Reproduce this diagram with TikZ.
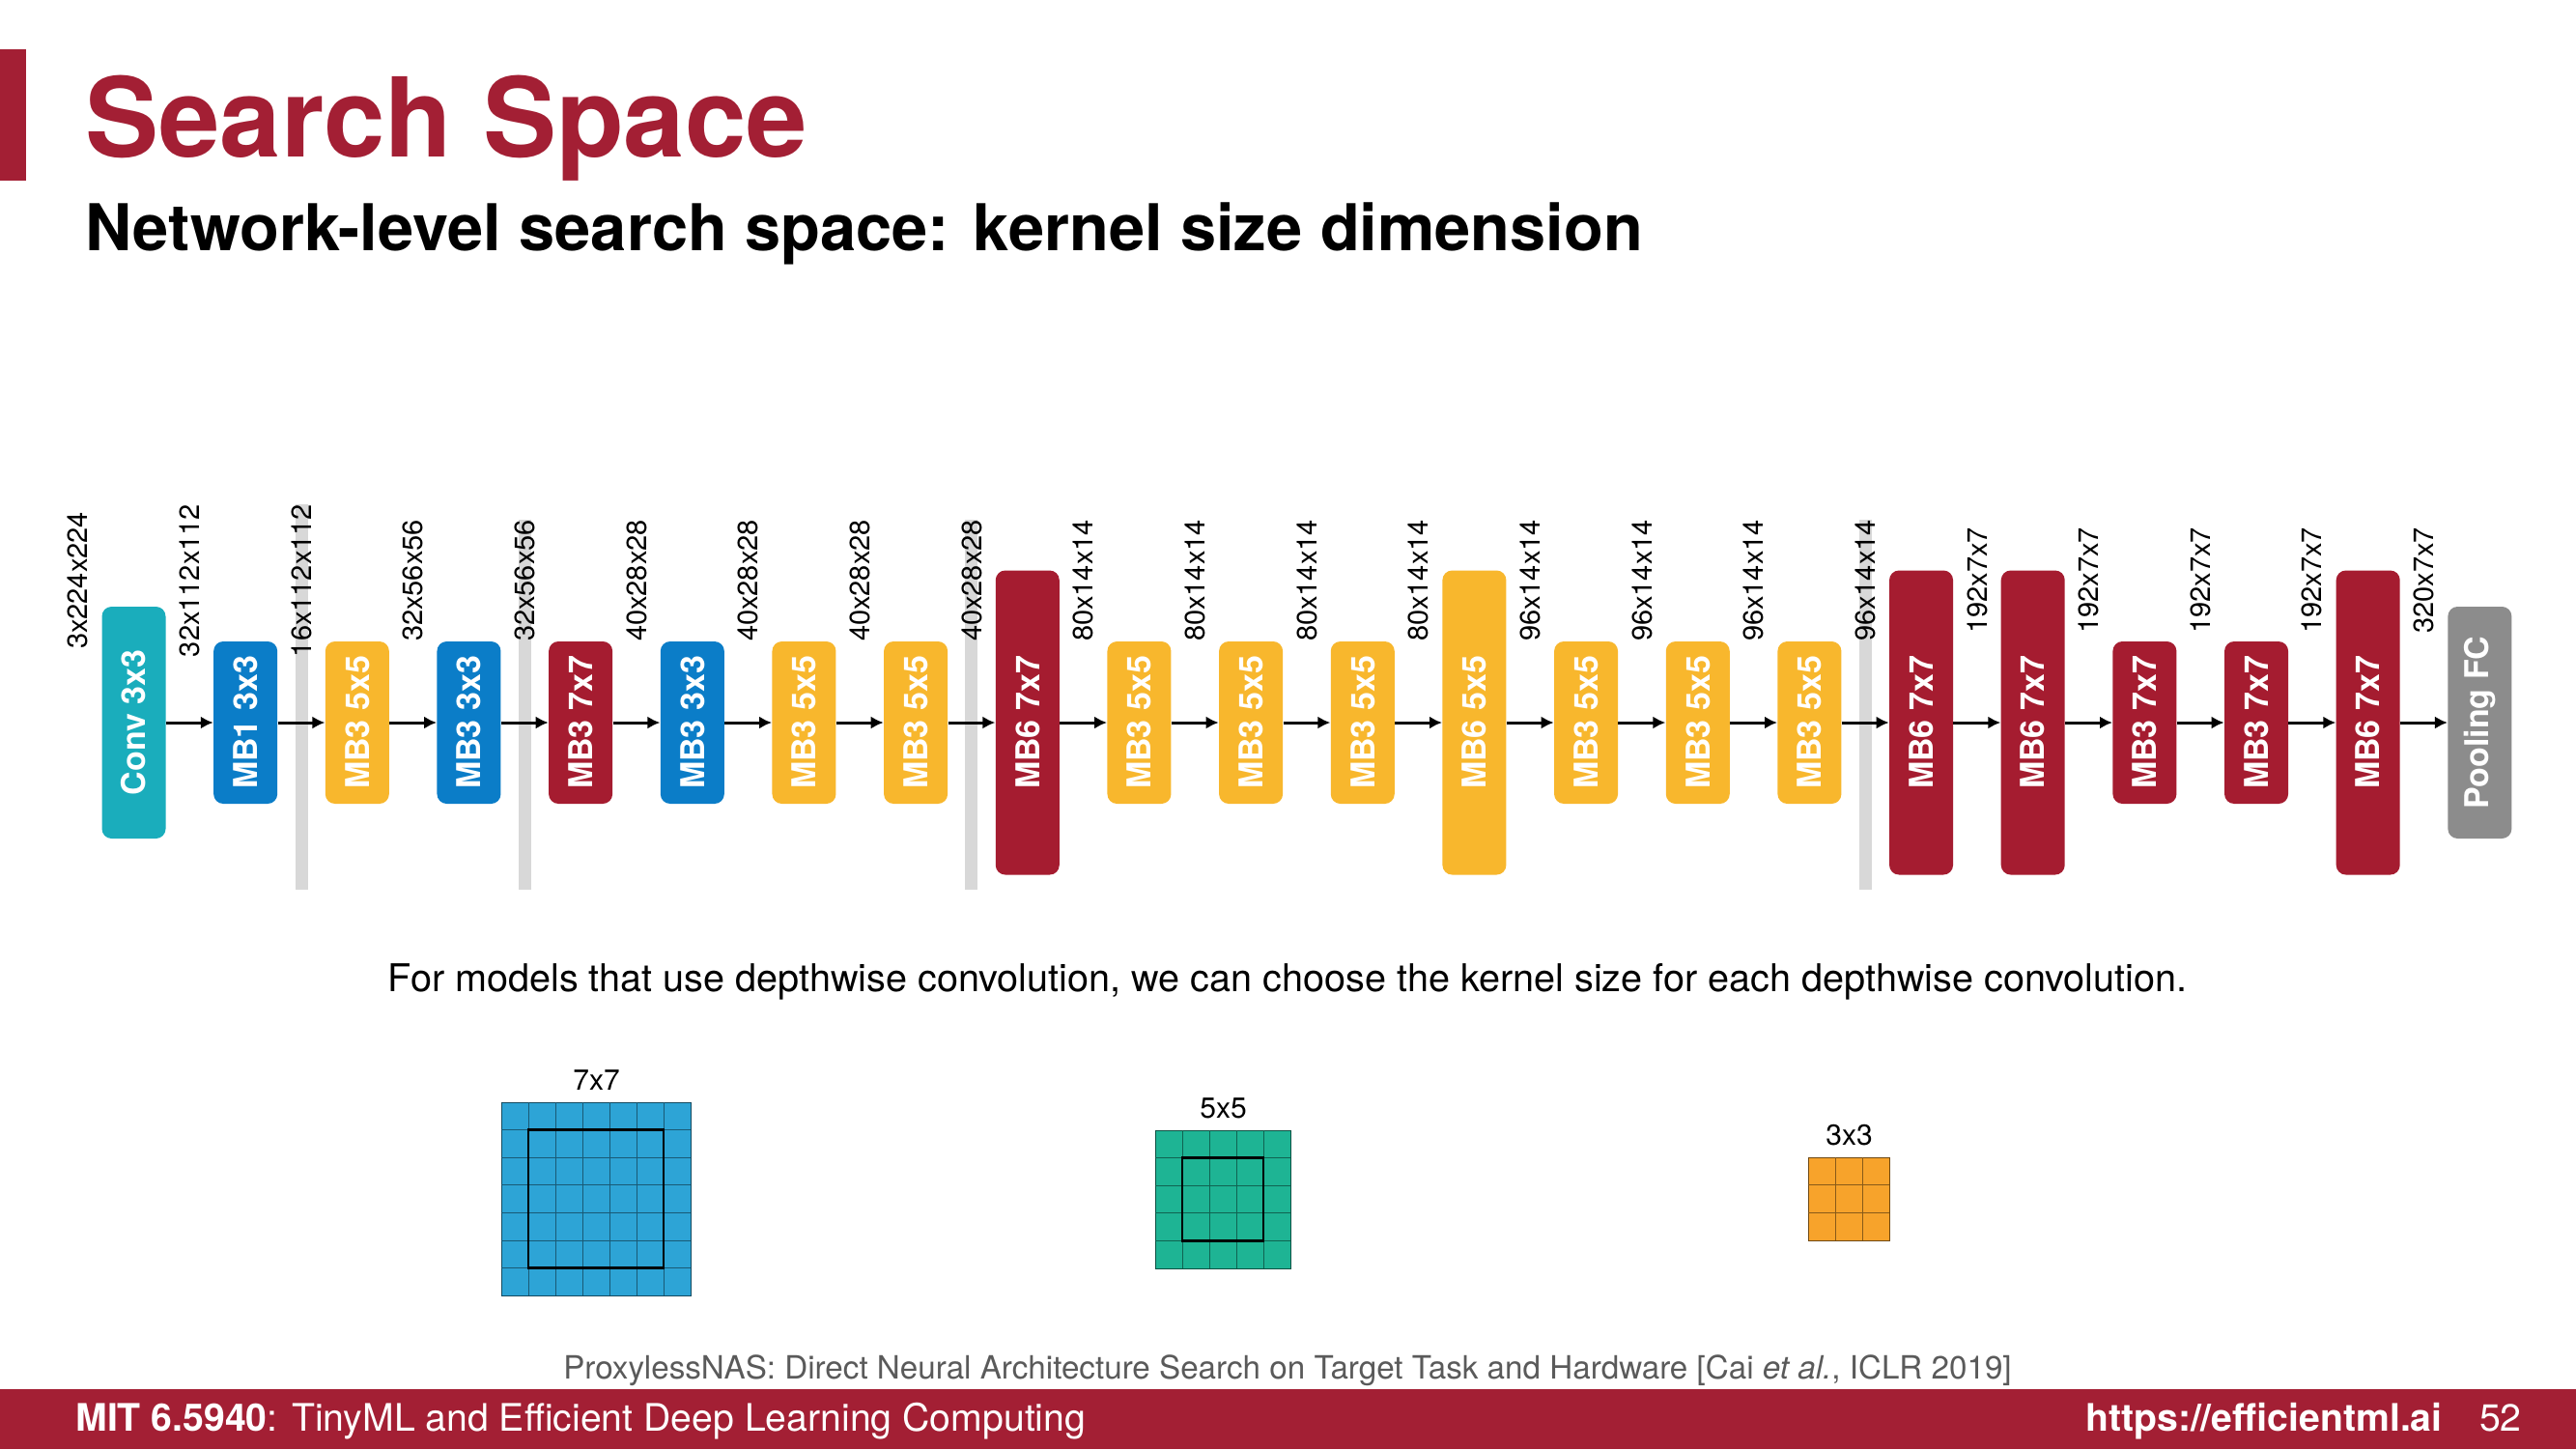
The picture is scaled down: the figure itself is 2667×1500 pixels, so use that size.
\documentclass[tikz,border=0pt]{standalone}
\usepackage{fontspec}
\setmainfont{TeX Gyre Heros}
\usetikzlibrary{arrows.meta,positioning,backgrounds}

\definecolor{mitred}{RGB}{163,31,52}
\definecolor{convteal}{RGB}{26,173,188}
\definecolor{mbblue}{RGB}{11,125,200}
\definecolor{mbyellow}{RGB}{248,183,45}
\definecolor{mbred}{RGB}{165,28,48}
\definecolor{poolgrey}{RGB}{140,140,140}
\definecolor{bargrey}{RGB}{216,216,216}
\definecolor{kblue}{RGB}{45,164,214}
\definecolor{kgreen}{RGB}{30,180,148}
\definecolor{korange}{RGB}{247,163,43}
\definecolor{citegrey}{RGB}{90,90,90}

\newcommand{\pxfont}[1]{\fontsize{#1}{#1}\selectfont}

\begin{document}
\begin{tikzpicture}[x=0.5pt, y=-0.5pt,
    blk/.style={rotate=90, rounded corners=5pt, minimum height=33pt, inner sep=0pt, text=white, font=\bfseries\pxfont{17}},
    bshort/.style={minimum width=84pt},
    bmid/.style={minimum width=120pt},
    btall/.style={minimum width=157.5pt},
    dim/.style={rotate=90, inner sep=0pt, font=\pxfont{14.5}},
    arr/.style={-{Latex[length=6.5pt,width=6.5pt]}, line width=1.5pt},
    bar/.style={draw=bargrey, line width=6.5pt},
    kgrid/.style={line width=0.6pt, inner sep=0pt, anchor=north west},
    klbl/.style={font=\pxfont{15}, inner sep=0pt}
]
\useasboundingbox (0,0) rectangle (2667,1500);

% heading
\fill[mitred] (0,51) rectangle (27,187);
\node[anchor=base west, inner sep=0pt, text=mitred, font=\bfseries\pxfont{57}] (title) at (88,162) {Search Space};
\node[anchor=base west, inner sep=0pt, font=\bfseries\pxfont{33.4}] (subtitle) at (88,259) {Network-level search space: kernel size dimension};

% network blocks and tensor shapes
\coordinate (barend) at (0,921);
\foreach \i/\txt/\col/\sz/\dims in {
    0/Conv 3x3/convteal/bmid/3x224x224,
    1/MB1 3x3/mbblue/bshort/32x112x112,
    2/MB3 5x5/mbyellow/bshort/16x112x112,
    3/MB3 3x3/mbblue/bshort/32x56x56,
    4/MB3 7x7/mbred/bshort/32x56x56,
    5/MB3 3x3/mbblue/bshort/40x28x28,
    6/MB3 5x5/mbyellow/bshort/40x28x28,
    7/MB3 5x5/mbyellow/bshort/40x28x28,
    8/MB6 7x7/mbred/btall/40x28x28,
    9/MB3 5x5/mbyellow/bshort/80x14x14,
    10/MB3 5x5/mbyellow/bshort/80x14x14,
    11/MB3 5x5/mbyellow/bshort/80x14x14,
    12/MB6 5x5/mbyellow/btall/80x14x14,
    13/MB3 5x5/mbyellow/bshort/96x14x14,
    14/MB3 5x5/mbyellow/bshort/96x14x14,
    15/MB3 5x5/mbyellow/bshort/96x14x14,
    16/MB6 7x7/mbred/btall/96x14x14,
    17/MB6 7x7/mbred/btall/192x7x7,
    18/MB3 7x7/mbred/bshort/192x7x7,
    19/MB3 7x7/mbred/bshort/192x7x7,
    20/MB6 7x7/mbred/btall/192x7x7,
    21/Pooling FC/poolgrey/bmid/320x7x7} {
  \pgfmathsetmacro{\cx}{138.5+\i*115.66}
  \node[blk, \sz, fill=\col] (b\i) at (\cx,748) {\txt};
  \node[dim] (l\i) at (\cx-57.8,601) {\dims};
}
\foreach \i [evaluate=\i as \j using int(\i+1)] in {0,...,20}
  \draw[arr] (b\i) -- (b\j);

\begin{pgfonlayer}{background}
  \fill[white] (0,0) rectangle (2667,1500);
  \foreach \i in {2,4,8,16}
    \draw[bar] (l\i.east) -- (l\i.east |- barend);
\end{pgfonlayer}

\node[anchor=base, inner sep=0pt, font=\pxfont{19.8}] (note) at (1333,1026) {For models that use depthwise convolution, we can choose the kernel size for each depthwise convolution.};

% kernel grids
\foreach \gx/\gy/\n/\col/\nm in {519/1141/7/kblue/7x7, 1196/1170/5/kgreen/5x5, 1872/1198/3/korange/3x3} {
  \pgfmathtruncatemacro{\nn}{\n-1}
  \node[kgrid, draw=\col!45!black, fill=\col, minimum width=\n*14pt, minimum height=\n*14.3pt] (k\n) at (\gx,\gy) {};
  \node[klbl, above=6pt of k\n.north] (kl\n) {\nm};
  \foreach \c in {1,...,\nn} {
    \draw[line width=0.5pt, draw=\col!55!black] (\gx+\c*28,\gy) -- (\gx+\c*28,\gy+\n*28.6);
    \draw[line width=0.5pt, draw=\col!55!black] (\gx,\gy+\c*28.6) -- (\gx+\n*28,\gy+\c*28.6);
  }
  \ifnum\n>3
    \draw[line width=1.3pt] (\gx+28,\gy+28.6) rectangle (\gx+\nn*28,\gy+\nn*28.6);
  \fi
}

% reference and footer
\node[anchor=base, inner sep=0pt, text=citegrey, font=\pxfont{16.6}] (cite) at (1333,1427) {ProxylessNAS: Direct Neural Architecture Search on Target Task and Hardware [Cai \textit{et al.}, ICLR 2019]};
\fill[mitred] (0,1438) rectangle (2667,1500);
\node[anchor=base west, inner sep=0pt, text=white, font=\pxfont{19.6}] (footl) at (78,1481) {\textbf{MIT 6.5940}: TinyML and Efficient Deep Learning Computing};
\node[anchor=base east, inner sep=0pt, text=white, font=\bfseries\pxfont{19.6}] (footr) at (2529,1481) {https://efficientml.ai};
\node[anchor=base east, inner sep=0pt, text=white, font=\pxfont{19.6}] (page) at (2611,1481) {52};
\end{tikzpicture}
\end{document}
